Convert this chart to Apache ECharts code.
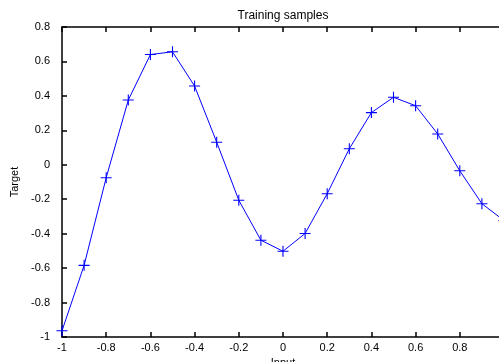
<!DOCTYPE html>
<html>
<head>
<meta charset="utf-8">
<style>
  html, body { margin: 0; padding: 0; background: #fff; }
  #main { width: 499px; height: 362px; }
</style>
<script src="https://cdn.jsdelivr.net/npm/echarts@6/dist/echarts.min.js"></script>
</head>
<body>
<div id="main"></div>
<script>
// 训练样本数据
var inputs = [-1, -0.9, -0.8, -0.7, -0.6, -0.5, -0.4, -0.3, -0.2, -0.1, 0,
              0.1, 0.2, 0.3, 0.4, 0.5, 0.6, 0.7, 0.8, 0.9, 1];
var targets = [-0.964, -0.584, -0.075, 0.376, 0.640, 0.656, 0.457, 0.131, -0.206, -0.438, -0.502,
               -0.399, -0.168, 0.093, 0.303, 0.392, 0.343, 0.179, -0.035, -0.226, -0.324];

var points = inputs.map(function (x, i) { return [x, targets[i]]; });

var font = 'Liberation Sans, Arial, Helvetica, sans-serif';

// 加号标记
var plusSymbol = 'path://M0,4.5H10V5.5H0Z M4.5,0H5.5V10H4.5Z';

function frameLine() {
    return { show: true, onZero: false, lineStyle: { color: '#000', width: 1.5 } };
}
function inTick() {
    return { show: true, inside: true, length: 5, lineStyle: { color: '#000', width: 1.5 } };
}

var chart = echarts.init(document.getElementById('main'));
var option = {
    backgroundColor: '#fff',
    animation: false,
    grid: {
        left: 62,
        top: 27,
        width: 442,
        height: 310,
        containLabel: false,
        outerBoundsMode: 'none'
    },
    xAxis: [
        {
            type: 'value',
            position: 'bottom',
            min: -1,
            max: 1,
            interval: 0.2,
            name: 'Input',
            nameLocation: 'middle',
            nameGap: 18,
            nameTextStyle: { color: '#000', fontSize: 11, fontFamily: font },
            axisLine: frameLine(),
            axisTick: inTick(),
            axisLabel: { color: '#000', fontSize: 11, fontFamily: font, margin: 5 },
            splitLine: { show: false }
        },
        {
            type: 'value',
            position: 'top',
            min: -1,
            max: 1,
            interval: 0.2,
            name: 'Training samples',
            nameLocation: 'middle',
            nameGap: 5,
            nameTextStyle: { color: '#000', fontSize: 12, fontFamily: font },
            axisLine: frameLine(),
            axisTick: inTick(),
            axisLabel: { show: false },
            splitLine: { show: false }
        }
    ],
    yAxis: [
        {
            type: 'value',
            position: 'left',
            min: -1,
            max: 0.8,
            interval: 0.2,
            name: 'Target',
            nameLocation: 'middle',
            nameGap: 32,
            nameTextStyle: { color: '#000', fontSize: 11, fontFamily: font },
            axisLine: frameLine(),
            axisTick: inTick(),
            axisLabel: { color: '#000', fontSize: 11, fontFamily: font, margin: 12 },
            splitLine: { show: false }
        },
        {
            type: 'value',
            position: 'right',
            min: -1,
            max: 0.8,
            interval: 0.2,
            axisLine: frameLine(),
            axisTick: inTick(),
            axisLabel: { show: false },
            splitLine: { show: false }
        }
    ],
    series: [
        {
            name: 'Training samples',
            type: 'line',
            xAxisIndex: 0,
            yAxisIndex: 0,
            data: points,
            symbol: plusSymbol,
            symbolSize: 11,
            showAllSymbol: true,
            itemStyle: { color: '#0000ff' },
            lineStyle: { color: '#0000ff', width: 1 }
        }
    ]
};
chart.setOption(option);
</script>
</body>
</html>
